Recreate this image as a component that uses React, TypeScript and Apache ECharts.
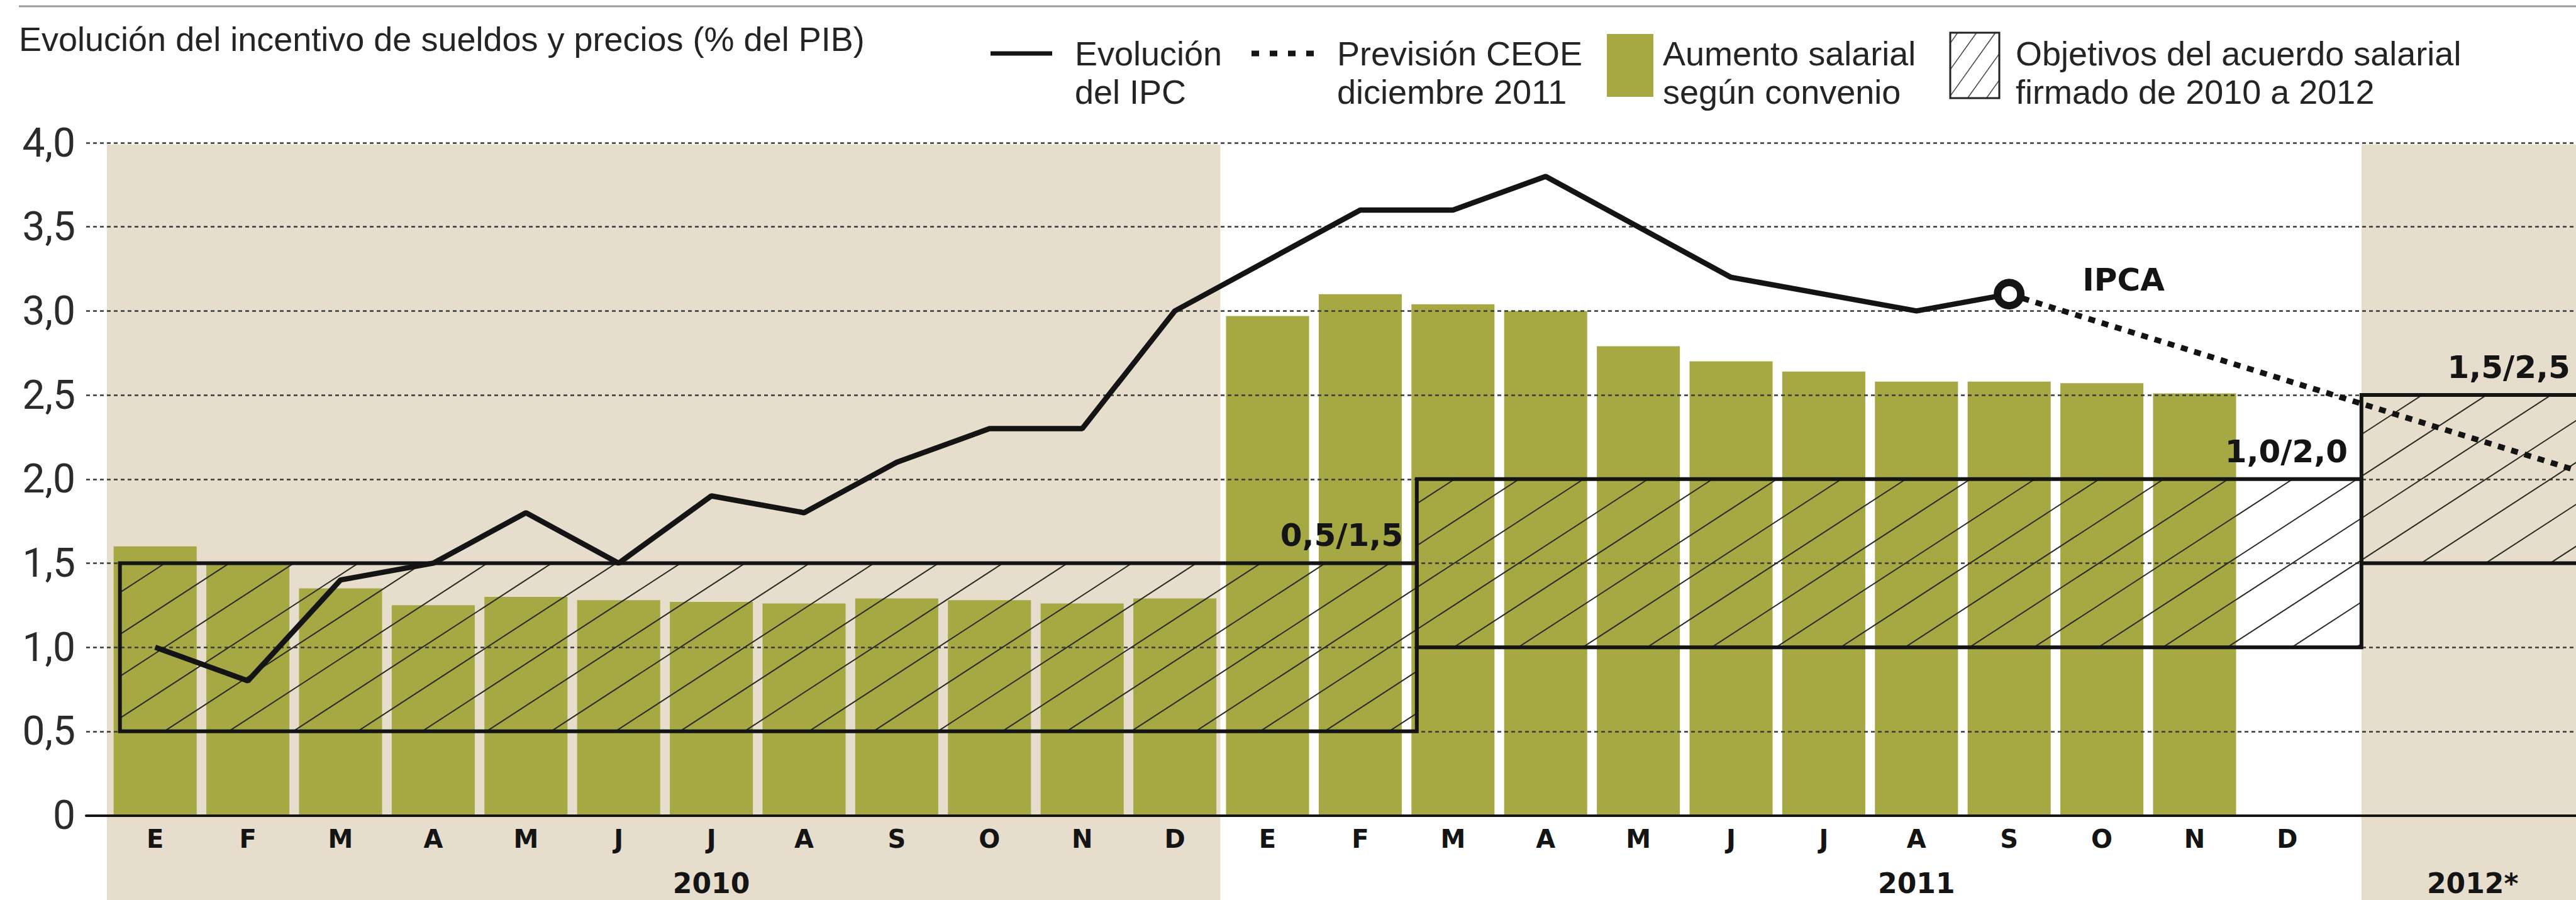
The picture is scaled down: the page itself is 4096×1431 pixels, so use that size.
import React, { useEffect, useRef } from 'react';
import * as echarts from 'echarts';

// ---------- data ----------
const months = ['E', 'F', 'M', 'A', 'M', 'J', 'J', 'A', 'S', 'O', 'N', 'D'];
const extra2012 = ['', '', '', ''];
const categories = [...months, ...months, ...extra2012];
const yearLabels = [
  { text: '2010', at: 6 },
  { text: '2011', at: 19 },
  { text: '2012*', at: 25 },
];
const salary2010 = [1.6, 1.5, 1.35, 1.25, 1.3, 1.28, 1.27, 1.26, 1.29, 1.28, 1.26, 1.29];
const salary2011 = [2.97, 3.1, 3.04, 3.0, 2.79, 2.7, 2.64, 2.58, 2.58, 2.57, 2.51];
const ipc2010 = [1.0, 0.8, 1.4, 1.5, 1.8, 1.5, 1.9, 1.8, 2.1, 2.3, 2.3, 3.0];
const ipc2011 = [3.3, 3.6, 3.6, 3.8, 3.5, 3.2, 3.1, 3.0, 3.1];
const ipcaPointIndex = 20;
const forecastCEOE = [
  { at: 20, value: 3.1 },
  { at: 27, value: 1.9 },
];
const targetBands = [
  { label: '0,5/1,5', low: 0.5, high: 1.5, from: -0.38, to: 13.61 },
  { label: '1,0/2,0', low: 1.0, high: 2.0, from: 13.61, to: 23.8 },
  { label: '1,5/2,5', low: 1.5, high: 2.5, from: 23.8, to: 26.2 },
];
const shadedPeriods = [
  { from: -0.52, to: 11.49 },
  { from: 23.8, to: 27.5 },
];
const yMin = 0;
const yMax = 4;
const yStep = 0.5;

// ---------- layout / style ----------
const W = 4096;
const H = 1431;
const CAT_W = 147.4;
const N = categories.length;
const GRID_TOP = 227;
const GRID_BOTTOM = 134.5;
const GRID0_LEFT = 137;
const GRID1_LEFT = 173;
const GREEN = '#a6a843';
const BEIGE = '#e6ddcc';
const INK = '#141414';
const TEXT = '#242424';

const pad = (arr: (number | null)[], n: number) => {
  const out: (number | null)[] = arr.slice();
  while (out.length < n) out.push(null);
  return out;
};

function hatchSegments(x1: number, y1: number, x2: number, y2: number, s: number, p: number) {
  const segs: number[][] = [];
  const cMin = x1 + y1 / s;
  const cMax = x2 + y2 / s;
  for (let c = Math.ceil(cMin / p) * p; c <= cMax; c += p) {
    const ya = Math.max(y1, s * (c - x2));
    const yb = Math.min(y2, s * (c - x1));
    if (yb - ya > 0.5) segs.push([c - ya / s, ya, c - yb / s, yb]);
  }
  return segs;
}

export default function App() {
  const ref = useRef<HTMLDivElement>(null);

  useEffect(() => {
    const chart = echarts.init(ref.current!, null, { renderer: 'svg' });

    const barData = pad([...salary2010, ...salary2011], N);
    const ipcRaw = pad([...ipc2010, ...ipc2011], N);
    const ipcData = ipcRaw.map((v, i) =>
      i === ipcaPointIndex
        ? {
            value: v,
            symbol: 'circle',
            symbolSize: 37,
            itemStyle: { color: '#ffffff', borderColor: INK, borderWidth: 12 },
            label: {
              show: true,
              formatter: 'IPCA',
              position: 'right',
              distance: 92,
              offset: [0, -23],
              fontFamily: 'DejaVu Sans',
              fontWeight: 'bold',
              fontSize: 50,
              color: INK,
            },
          }
        : v
    );
    const forecastData: (number | null)[] = new Array(N).fill(null);
    forecastCEOE.forEach((f) => (forecastData[f.at] = f.value));
    const yearAxisData = categories.map(() => '');
    yearLabels.forEach((y) => (yearAxisData[y.at] = y.text));

    const legendHatch = hatchSegments(3101, 52, 3179, 156, 1.4, 30).map((s) => ({
      type: 'line',
      shape: { x1: s[0], y1: s[1], x2: s[2], y2: s[3] },
      style: { stroke: '#444', lineWidth: 1.5 },
    }));

    const font = (size: number) => `${size}px "Liberation Sans", Arial, sans-serif`;

    const option: any = {
      animation: false,
      backgroundColor: '#ffffff',
      grid: [
        { left: GRID0_LEFT, right: 0, top: GRID_TOP, bottom: GRID_BOTTOM, outerBoundsMode: 'none' },
        {
          left: GRID1_LEFT,
          width: CAT_W * N,
          top: GRID_TOP,
          bottom: GRID_BOTTOM,
          outerBoundsMode: 'none',
        },
      ],
      xAxis: [
        {
          type: 'value',
          gridIndex: 0,
          min: 0,
          max: 1,
          position: 'bottom',
          axisLine: { show: true, onZero: false, lineStyle: { color: INK, width: 4 } },
          axisTick: { show: false },
          axisLabel: { show: false },
          splitLine: { show: false },
          z: 3,
        },
        {
          type: 'category',
          gridIndex: 1,
          data: categories,
          position: 'bottom',
          axisLine: { show: false },
          axisTick: { show: false },
          axisLabel: {
            interval: 0,
            margin: 17,
            fontFamily: 'DejaVu Sans',
            fontWeight: 'bold',
            fontSize: 40,
            color: INK,
          },
          splitLine: { show: false },
          z: 3,
        },
        {
          type: 'value',
          gridIndex: 1,
          min: -0.5,
          max: N - 0.5,
          show: false,
        },
        {
          type: 'category',
          gridIndex: 1,
          data: yearAxisData,
          position: 'bottom',
          axisLine: { show: false },
          axisTick: { show: false },
          axisLabel: {
            interval: 0,
            margin: 86,
            fontFamily: 'DejaVu Sans',
            fontWeight: 'bold',
            fontSize: 44,
            color: INK,
          },
          splitLine: { show: false },
          z: 3,
        },
      ],
      yAxis: [
        {
          type: 'value',
          gridIndex: 0,
          min: yMin,
          max: yMax,
          interval: yStep,
          axisLine: { show: false },
          axisTick: { show: false },
          axisLabel: {
            margin: 17,
            fontFamily: 'Roboto',
            fontSize: 64,
            color: '#2b2b2b',
            formatter: (v: number) => (v === 0 ? '0' : v.toFixed(1).replace('.', ',')),
          },
          splitLine: { lineStyle: { color: '#3a3a3a', width: 2.5, type: [6, 5] } },
          z: 3,
        },
        { type: 'value', gridIndex: 1, min: yMin, max: yMax, show: false },
      ],
      series: [
        {
          type: 'custom',
          name: 'periodos',
          xAxisIndex: 2,
          yAxisIndex: 1,
          z: 1,
          silent: true,
          data: shadedPeriods.map((p) => [p.from, p.to]),
          renderItem: (params: any, api: any) => {
            const x1 = api.coord([api.value(0), yMax])[0];
            const x2 = api.coord([api.value(1), yMax])[0];
            const yTop = api.coord([0, yMax])[1] + 3;
            return {
              type: 'rect',
              shape: { x: x1, y: yTop, width: x2 - x1, height: api.getHeight() - yTop },
              style: { fill: BEIGE },
            };
          },
        },
        {
          type: 'bar',
          name: 'Aumento salarial según convenio',
          xAxisIndex: 1,
          yAxisIndex: 1,
          data: barData,
          barWidth: '89.6%',
          itemStyle: { color: GREEN },
          z: 2,
        },
        {
          type: 'custom',
          name: 'Objetivos del acuerdo salarial',
          xAxisIndex: 2,
          yAxisIndex: 1,
          z: 4,
          silent: true,
          data: targetBands.map((b) => [b.from, b.to, b.low, b.high]),
          renderItem: (params: any, api: any) => {
            const b = targetBands[params.dataIndex];
            const [x1, y1] = api.coord([api.value(0), api.value(3)]);
            const [x2, y2] = api.coord([api.value(1), api.value(2)]);
            const children: any[] = hatchSegments(x1, y1, x2, y2, 0.65, 102.5).map((s) => ({
              type: 'line',
              shape: { x1: s[0], y1: s[1], x2: s[2], y2: s[3] },
              style: { stroke: '#2a2a22', lineWidth: 2 },
            }));
            children.push({
              type: 'rect',
              shape: { x: x1, y: y1, width: x2 - x1, height: y2 - y1 },
              style: { fill: 'none', stroke: INK, lineWidth: 6 },
            });
            children.push({
              type: 'text',
              style: {
                text: b.label,
                x: x2 - 0.147 * CAT_W,
                y: y1 - 44,
                align: 'right',
                verticalAlign: 'middle',
                font: 'bold 50px "DejaVu Sans"',
                fill: INK,
              },
            });
            return { type: 'group', children };
          },
        },
        {
          type: 'line',
          name: 'Previsión CEOE diciembre 2011',
          xAxisIndex: 1,
          yAxisIndex: 1,
          data: forecastData,
          connectNulls: true,
          symbol: 'none',
          lineStyle: { color: INK, width: 9, type: [11, 11], cap: 'butt' },
          z: 5,
        },
        {
          type: 'line',
          name: 'Evolución del IPC',
          xAxisIndex: 1,
          yAxisIndex: 1,
          data: ipcData,
          symbol: 'none',
          showSymbol: true,
          lineStyle: { color: INK, width: 8.5 },
          z: 6,
        },
      ],
      graphic: [
        { type: 'line', shape: { x1: 30, y1: 10, x2: W, y2: 10 }, style: { stroke: '#9b9b9b', lineWidth: 3 } },
        {
          type: 'text',
          x: 30,
          y: 62,
          style: { text: 'Evolución del incentivo de sueldos y precios (% del PIB)', font: font(54), fill: TEXT, verticalAlign: 'middle' },
        },
        { type: 'line', shape: { x1: 1575, y1: 85, x2: 1673, y2: 85 }, style: { stroke: INK, lineWidth: 7 } },
        { type: 'text', x: 1709, y: 85, style: { text: 'Evolución', font: font(54), fill: TEXT, verticalAlign: 'middle' } },
        { type: 'text', x: 1709, y: 146, style: { text: 'del IPC', font: font(54), fill: TEXT, verticalAlign: 'middle' } },
        {
          type: 'line',
          shape: { x1: 1990, y1: 85, x2: 2091, y2: 85 },
          style: { stroke: INK, lineWidth: 9, lineDash: [12, 17] },
        },
        { type: 'text', x: 2126, y: 85, style: { text: 'Previsión CEOE', font: font(54), fill: TEXT, verticalAlign: 'middle' } },
        { type: 'text', x: 2126, y: 146, style: { text: 'diciembre 2011', font: font(54), fill: TEXT, verticalAlign: 'middle' } },
        { type: 'rect', shape: { x: 2555, y: 54, width: 74, height: 100 }, style: { fill: GREEN } },
        { type: 'text', x: 2644, y: 85, style: { text: 'Aumento salarial', font: font(54), fill: TEXT, verticalAlign: 'middle' } },
        { type: 'text', x: 2644, y: 146, style: { text: 'según convenio', font: font(54), fill: TEXT, verticalAlign: 'middle' } },
        ...legendHatch,
        {
          type: 'rect',
          shape: { x: 3101, y: 52, width: 78, height: 104 },
          style: { fill: 'none', stroke: '#222', lineWidth: 3 },
        },
        {
          type: 'text',
          x: 3205,
          y: 85,
          style: { text: 'Objetivos del acuerdo salarial', font: font(54), fill: TEXT, verticalAlign: 'middle' },
        },
        {
          type: 'text',
          x: 3205,
          y: 146,
          style: { text: 'firmado de 2010 a 2012', font: font(54), fill: TEXT, verticalAlign: 'middle' },
        },
      ],
    };

    chart.setOption(option);
    return () => chart.dispose();
  }, []);

  return (
    <div
      ref={ref}
      style={{ position: 'fixed', left: 0, top: 0, width: W, height: H, background: '#ffffff' }}
    />
  );
}
